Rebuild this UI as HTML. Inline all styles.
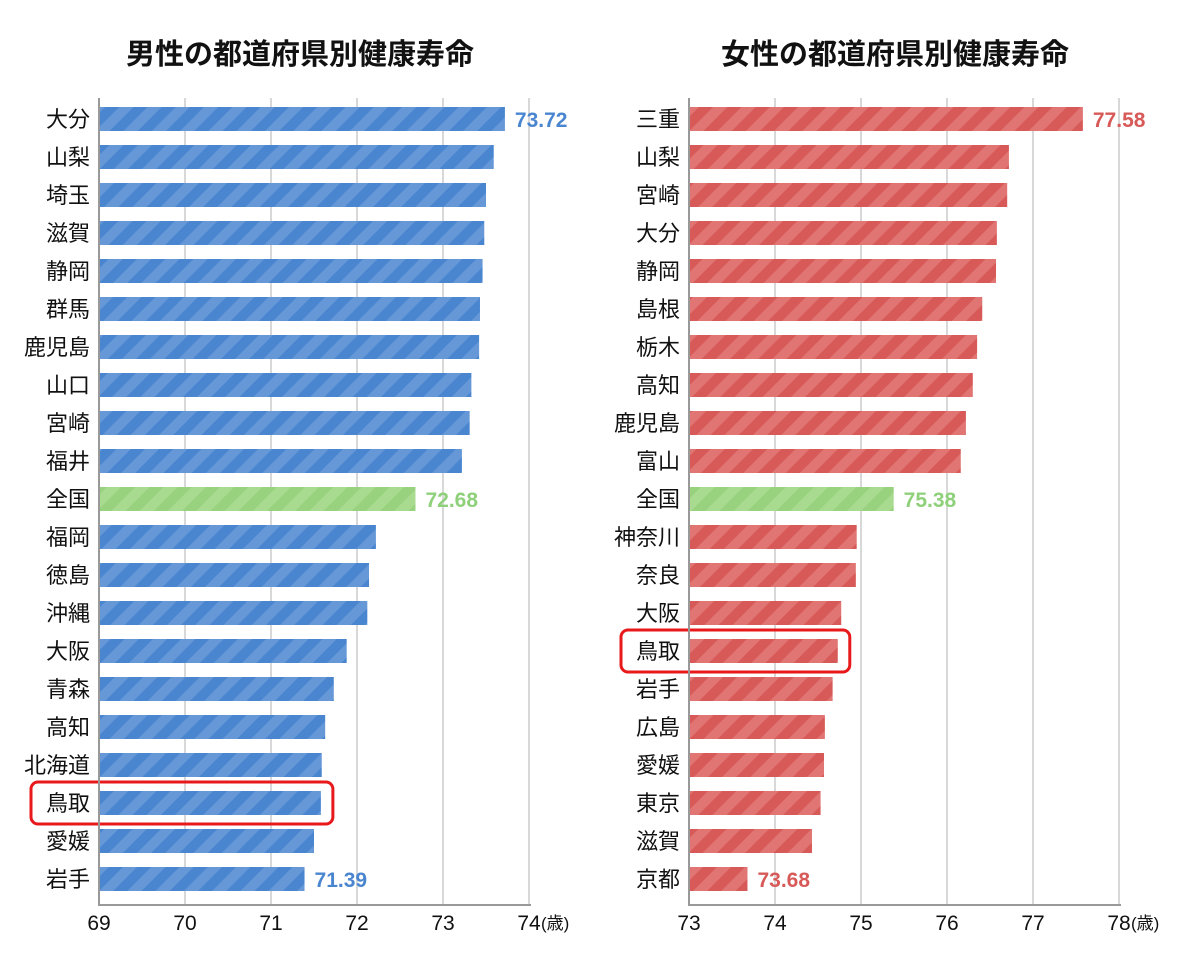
<!DOCTYPE html>
<html><head><meta charset="utf-8"><style>
body{margin:0;background:#fff;font-family:"Liberation Sans","Noto Sans CJK JP",sans-serif}
svg text{font-family:"Liberation Sans","Noto Sans CJK JP",sans-serif}
</style></head><body>
<svg id="c" width="1200" height="958" xmlns="http://www.w3.org/2000/svg">
<defs>
<pattern id="pb" width="20" height="20" patternUnits="userSpaceOnUse" patternTransform="rotate(45)"><rect width="20" height="20" fill="#4a86d0"/><rect width="10" height="20" fill="#6698d8"/></pattern>
<pattern id="pr" width="20" height="20" patternUnits="userSpaceOnUse" patternTransform="rotate(45)"><rect width="20" height="20" fill="#d75a58"/><rect width="10" height="20" fill="#e07573"/></pattern>
<pattern id="pg" width="20" height="20" patternUnits="userSpaceOnUse" patternTransform="rotate(45)"><rect width="20" height="20" fill="#98d27e"/><rect width="10" height="20" fill="#a8da90"/></pattern>
</defs>
<text x="300" y="64" text-anchor="middle" font-size="29" font-weight="bold" fill="#111">男性の都道府県別健康寿命</text>
<text x="895" y="64" text-anchor="middle" font-size="29" font-weight="bold" fill="#111">女性の都道府県別健康寿命</text>
</svg>
<script>
const maleCats=["大分","山梨","埼玉","滋賀","静岡","群馬","鹿児島","山口","宮崎","福井","全国","福岡","徳島","沖縄","大阪","青森","高知","北海道","鳥取","愛媛","岩手"];
const maleVals=[73.72,73.59,73.50,73.48,73.46,73.43,73.42,73.33,73.31,73.22,72.68,72.22,72.14,72.12,71.88,71.73,71.63,71.59,71.58,71.50,71.39];
const maleTicks=[69,70,71,72,73,74];
const femaleCats=["三重","山梨","宮崎","大分","静岡","島根","栃木","高知","鹿児島","富山","全国","神奈川","奈良","大阪","鳥取","岩手","広島","愛媛","東京","滋賀","京都"];
const femaleVals=[77.58,76.72,76.70,76.58,76.57,76.41,76.35,76.30,76.22,76.16,75.38,74.95,74.94,74.77,74.73,74.67,74.58,74.57,74.53,74.43,73.68];
const femaleTicks=[73,74,75,76,77,78];
const svg=document.getElementById('c');
const NS="http://www.w3.org/2000/svg";
function mk(t,a){const e=document.createElementNS(NS,t);for(const k in a)e.setAttribute(k,a[k]);svg.appendChild(e);return e;}
function chart(pre,cats,vals,ticks,x0,pat,col,hl,lbl){
  const min=ticks[0],max=ticks[ticks.length-1];
  const xs=v=>x0+(v-min)*(430/(max-min));
  const ys=i=>119+i*38;
  ticks.forEach((t,i)=>{
    if(i>0){const g=mk('line',{x1:xs(t),x2:xs(t),y1:98,y2:905,stroke:'#d8d8d8','stroke-width':2});
    
    }
    const tx=mk('text',{x:xs(t),y:930,'text-anchor':'middle','font-size':21,fill:'#111'});tx.textContent=t;
    
    
  });
  const u=mk('text',{x:xs(max)+12,y:929,'font-size':17,fill:'#111'});u.textContent='(歳)';
  
  
  cats.forEach((c,i)=>{
    const isAll=c==='全国';
    const r=mk('rect',{x:x0+1,y:ys(i)-12,width:xs(vals[i])-x0-1,height:24,fill:isAll?'url(#pg)':'url(#'+pat+')'});
    
    
    const t=mk('text',{x:x0-9,y:ys(i)+8,'text-anchor':'end','font-size':22,fill:'#111'});t.textContent=c;
    
    
    if(lbl.includes(i)){
      const v=mk('text',{x:xs(vals[i])+10,y:ys(i)+8,'font-size':21,'font-weight':'bold',fill:isAll?'#8fd07a':col});v.textContent=vals[i].toFixed(2);
      
      
    }
    if(c===hl){
      const h=mk('rect',{x:x0-68,y:ys(i)-21,width:xs(vals[i])-x0+80,height:42,rx:7,fill:'none',stroke:'#e8191b','stroke-width':3});
      
      
    }
  });
  const ax=mk('line',{x1:x0,x2:x0,y1:98,y2:906,stroke:'#999','stroke-width':2});
  
  
  const bx=mk('line',{x1:x0,x2:x0+432,y1:905,y2:905,stroke:'#999','stroke-width':2});
  
  
}
chart('male',maleCats,maleVals,maleTicks,99,'pb','#4a86d0','鳥取',[0,10,20]);
chart('female',femaleCats,femaleVals,femaleTicks,689,'pr','#d75a58','鳥取',[0,10,20]);
</script>
</body></html>
